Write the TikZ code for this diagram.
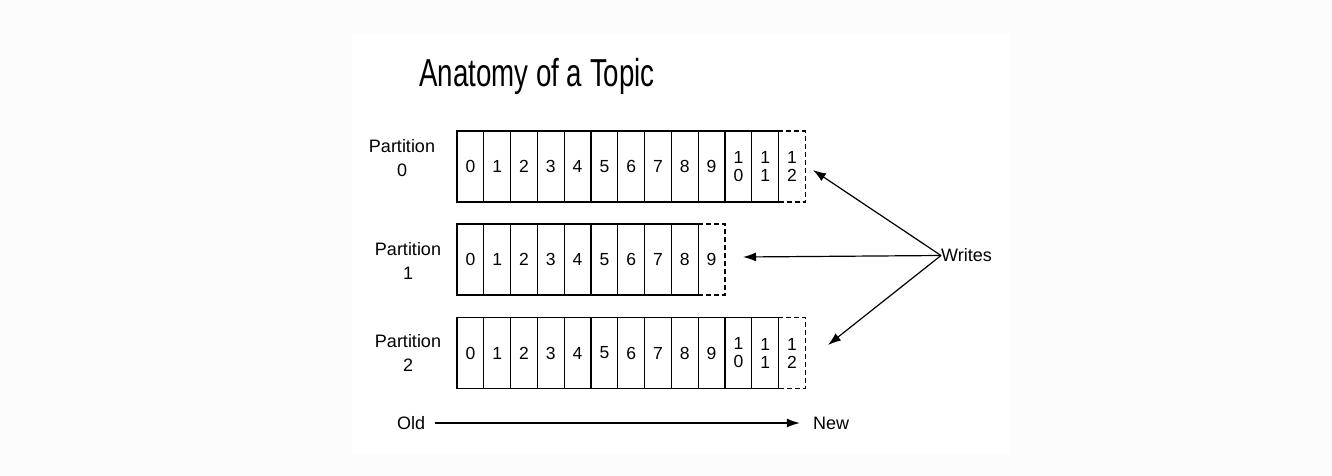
\documentclass[tikz,border=0pt]{standalone}
\usepackage{fontspec}
\setmainfont{Liberation Sans}
\newfontfamily\titlefont[FakeStretch=0.71]{Liberation Sans}
\usetikzlibrary{arrows.meta,positioning}

\begin{document}
\begin{tikzpicture}[
    x=1pt, y=-1pt,
    node distance=0pt,
    cell/.style={draw, line width=1.1pt, minimum width=26.8pt, minimum height=71pt,
                 inner sep=0pt, outer sep=0pt, align=center,
                 font=\fontsize{17.5}{18}\selectfont},
    newcell/.style={cell, dash pattern=on 5pt off 3pt},
    txt/.style={inner sep=0pt, align=center, font=\fontsize{18}{24}\selectfont},
    arrow/.style={-{Latex[length=13pt,width=9pt]}, line width=1.2pt}
  ]
    % page and panel
    \fill[black!1] (0,0) rectangle (1332,476);
    \fill[white] (352,33) rectangle (1010,455);
    \useasboundingbox (0,0) rectangle (1332,476);

    \node[anchor=base, inner sep=0pt, font=\titlefont\fontsize{39}{40}\selectfont]
      (title) at (537,87) {Anatomy of a Topic};

    % partition 0
    \node[txt] (lab0) at (402,158.5) {Partition\\0};
    \node[cell] (r0c0) at (470.4,166.5) {0};
    \foreach \t [count=\i] in {1,2,...,9,{1\\0},{1\\1}} {
      \pgfmathtruncatemacro\j{\i-1}
      \node[cell, right=of r0c\j] (r0c\i) {\t};
    }
    \node[newcell, right=of r0c11] (r0c12) {1\\2};

    % partition 1
    \node[txt] (lab1) at (408,261) {Partition\\1};
    \node[cell] (r1c0) at (470.4,259.5) {0};
    \foreach \t [count=\i] in {1,2,...,8} {
      \pgfmathtruncatemacro\j{\i-1}
      \node[cell, right=of r1c\j] (r1c\i) {\t};
    }
    \node[newcell, right=of r1c8] (r1c9) {9};

    % partition 2
    \node[txt] (lab2) at (408,353) {Partition\\2};
    \node[cell] (r2c0) at (470.4,353) {0};
    \foreach \t [count=\i] in {1,2,...,9,{1\\0},{1\\1}} {
      \pgfmathtruncatemacro\j{\i-1}
      \node[cell, right=of r2c\j] (r2c\i) {\t};
    }
    \node[newcell, right=of r2c11] (r2c12) {1\\2};

    % writes
    \node[txt, anchor=west] (writes) at (941,255.5) {Writes};
    \coordinate (w0) at (813,170);
    \coordinate (w1) at (743,257);
    \coordinate (w2) at (828,345);
    \draw[arrow] (writes.west) -- (w0);
    \draw[arrow] (writes.west) -- (w1);
    \draw[arrow] (writes.west) -- (w2);

    % time axis
    \node[txt] (old) at (411,423) {Old};
    \node[txt] (new) at (831,423) {New};
    \draw[arrow, shorten <=10pt, shorten >=13pt] (old) -- (new);
  \end{tikzpicture}
\end{document}
